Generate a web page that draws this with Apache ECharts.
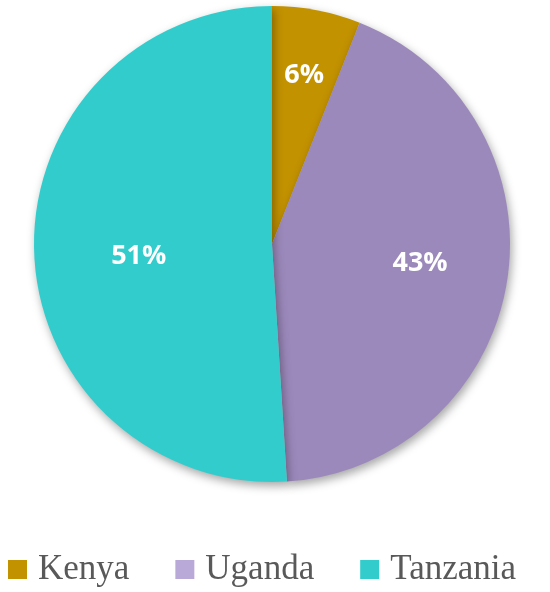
<!DOCTYPE html>
<html>
<head>
<meta charset="utf-8">
<script src="https://cdn.jsdelivr.net/npm/echarts@6/dist/echarts.min.js"></script>
<style>
  html, body { margin: 0; padding: 0; background: #ffffff; }
  #main { width: 550px; height: 592px; }
</style>
</head>
<body>
<div id="main"></div>
<script>
  var countries = ['Kenya', 'Uganda', 'Tanzania'];
  var shares = [6, 43, 51];
  var colors = ['#C39200', '#9C89BC', '#33CCCC'];
  var legendColors = ['#C39200', '#B9A9D9', '#33CCCC'];

  var cx = 272, cy = 244, R = 238;
  // how far out each label sits (fraction of radius)
  var labelFrac = [0.72, 0.63, 0.56];
  var labelDy = [0, -4, 8];

  var total = shares.reduce(function (a, b) { return a + b; }, 0);
  var midAngles = [];
  var acc = 0;
  for (var i = 0; i < shares.length; i++) {
    midAngles.push((acc + shares[i] / 2) / total * Math.PI * 2);
    acc += shares[i];
  }

  var myChart = echarts.init(document.getElementById('main'));

  var option = {
    backgroundColor: '#ffffff',
    animation: false,
    legend: {
      left: 3,
      top: 547,
      itemWidth: 19,
      itemHeight: 19,
      itemGap: 46,
      icon: 'rect',
      textStyle: {
        fontFamily: 'Liberation Serif',
        fontSize: 35,
        color: '#595959',
        padding: [0, 0, 0, 6]
      },
      data: countries.map(function (c, i) {
        return { name: c, itemStyle: { color: legendColors[i] } };
      })
    },
    series: [{
      type: 'pie',
      center: [cx, cy],
      radius: [0, R],
      startAngle: 90,
      clockwise: true,
      avoidLabelOverlap: false,
      itemStyle: {
        shadowBlur: 10,
        shadowColor: 'rgba(0,0,0,0.35)',
        shadowOffsetX: 2,
        shadowOffsetY: 4
      },
      label: {
        show: true,
        position: 'inside',
        formatter: '{c}%',
        color: '#ffffff',
        fontFamily: 'Open Sans',
        fontWeight: 'bold',
        fontSize: 27
      },
      labelLine: { show: false },
      labelLayout: function (params) {
        var i = params.dataIndex;
        var a = midAngles[i];
        var r = R * labelFrac[i];
        return {
          x: cx + r * Math.sin(a),
          y: cy - r * Math.cos(a) + labelDy[i],
          align: 'center',
          verticalAlign: 'middle'
        };
      },
      data: countries.map(function (c, i) {
        return { name: c, value: shares[i], itemStyle: { color: colors[i] } };
      })
    }]
  };

  myChart.setOption(option);
</script>
</body>
</html>
